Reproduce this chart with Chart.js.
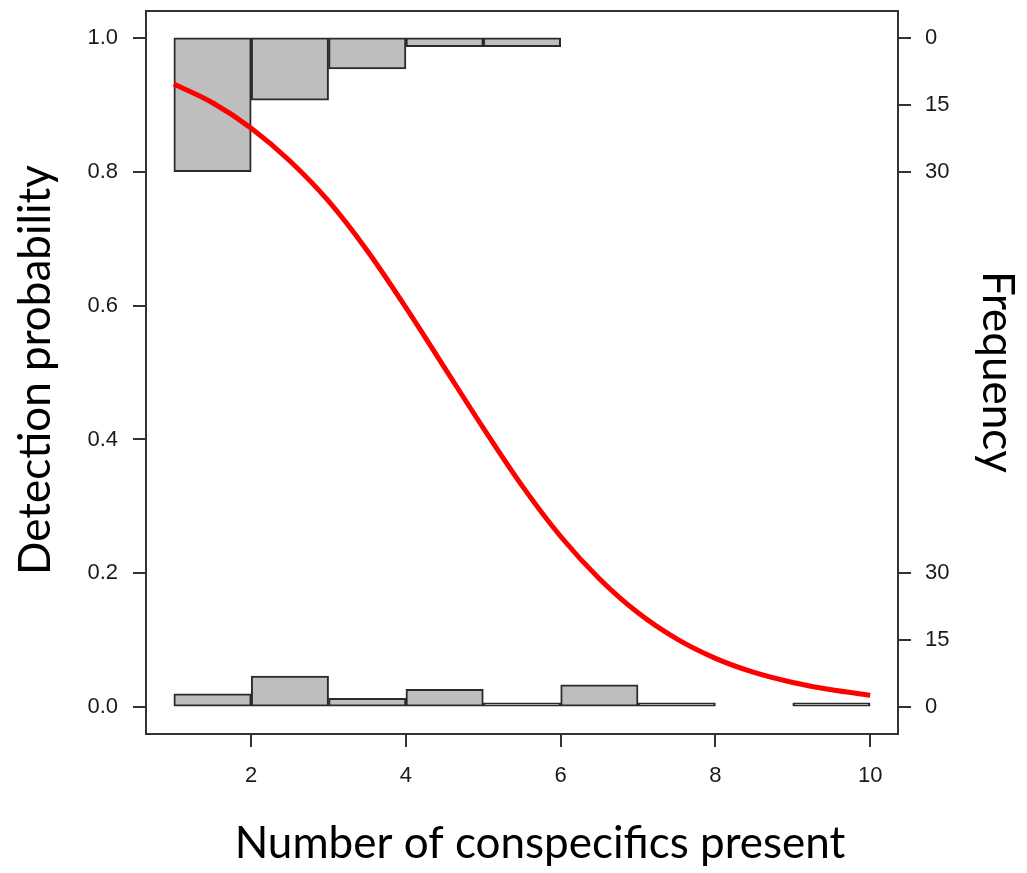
<!DOCTYPE html>
<html>
<head>
<meta charset="utf-8">
<script src="https://cdn.jsdelivr.net/npm/chart.js@4/dist/chart.umd.min.js"></script>
<style>
  html, body { margin: 0; padding: 0; background: #fff; }
  #wrap { width: 1027px; height: 873px; position: relative; }
</style>
</head>
<body>
<div id="wrap"><canvas id="chart"></canvas></div>
<script>
// fitted detection probability vs. group size
const groupSizes = [1, 1.5, 2, 2.5, 3, 3.5, 4, 4.5, 5, 5.5, 6, 6.5, 7, 7.5, 8, 8.5, 9, 9.5, 10];
const detectionProb = [0.931, 0.903, 0.865, 0.816, 0.756, 0.682, 0.597, 0.507, 0.417, 0.331,
                       0.255, 0.192, 0.141, 0.102, 0.073, 0.052, 0.037, 0.026, 0.018];

// histograms of observations, one bin per unit of group size
const binStarts = [1, 2, 3, 4, 5, 6, 7, 8, 9];
const detectedCounts = [30, 14, 7, 2, 2, 0, 0, 0, 0];   // hang down from 1.0
const missedCounts = [3, 7, 2, 4, 1, 5, 1, 0, 1];        // stand up from 0.0

const xTicks = [2, 4, 6, 8, 10];
const probTicks = [0, 0.2, 0.4, 0.6, 0.8, 1.0];
const freqTicks = [0, 15, 30];

// 30 observations take up 0.2 on the probability axis
const COUNT_TO_PROB = 0.2 / 30;

const detectedBars = [];
const missedBars = [];
binStarts.forEach((b, i) => {
  if (detectedCounts[i] > 0) {
    detectedBars.push({ x: b + 0.5, y: [1 - detectedCounts[i] * COUNT_TO_PROB, 1] });
  }
  if (missedCounts[i] > 0) {
    missedBars.push({ x: b + 0.5, y: [0, missedCounts[i] * COUNT_TO_PROB] });
  }
});

// right axis: counts measured down from 1.0 and up from 0.0
const freqTickItems = [];
const freqLabels = {};
freqTicks.forEach(f => {
  const top = +(1 - f * COUNT_TO_PROB).toFixed(4);
  const bottom = +(f * COUNT_TO_PROB).toFixed(4);
  freqTickItems.push({ value: top }, { value: bottom });
  freqLabels[top] = String(f);
  freqLabels[bottom] = String(f);
});

const AXIS_COLOR = '#333';
const LABEL_FONT = { family: '"Liberation Sans", Arial, sans-serif', size: 22 };

// frame around the plotting region
const plotFrame = {
  id: 'plotFrame',
  afterDatasetsDraw(chart) {
    const { ctx, chartArea: a } = chart;
    ctx.save();
    ctx.strokeStyle = AXIS_COLOR;
    ctx.lineWidth = 2;
    ctx.strokeRect(a.left, a.top, a.right - a.left, a.bottom - a.top);
    ctx.restore();
  }
};

const axisTitles = {
  id: 'axisTitles',
  afterDraw(chart) {
    const ctx = chart.ctx;
    ctx.save();
    ctx.fillStyle = '#000';
    ctx.font = '44px Lato, "Open Sans", sans-serif';
    ctx.textAlign = 'center';
    ctx.textBaseline = 'alphabetic';
    ctx.fillText('Number of conspecifics present', 540, 858);

    ctx.save();
    ctx.translate(50, 370);
    ctx.rotate(-Math.PI / 2);
    ctx.fillText('Detection probability', 0, 0);
    ctx.restore();

    ctx.save();
    ctx.translate(983, 372);
    ctx.rotate(Math.PI / 2);
    ctx.fillText('Frequency', 0, 0);
    ctx.restore();
    ctx.restore();
  }
};

const tickGrid = {
  drawOnChartArea: false,
  drawTicks: true,
  tickLength: 13,
  color: AXIS_COLOR,
  lineWidth: 2,
  offset: false
};

// fixed axis sizes, without the extra room chart.js keeps for end labels
const fixWidth = w => s => { s.width = w; s.paddingTop = 0; s.paddingBottom = 0; };
const fixHeight = h => s => { s.height = h; s.paddingLeft = 0; s.paddingRight = 0; };

new Chart(document.getElementById('chart'), {
  type: 'bar',
  data: {
    datasets: [
      {
        type: 'line',
        data: groupSizes.map((x, i) => ({ x, y: detectionProb[i] })),
        borderColor: '#ff0000',
        borderWidth: 5,
        pointRadius: 0,
        cubicInterpolationMode: 'monotone',
        order: 0
      },
      {
        data: detectedBars,
        backgroundColor: '#bebebe',
        borderColor: '#2b2b2b',
        borderWidth: 2,
        borderSkipped: false,
        order: 1
      },
      {
        data: missedBars,
        backgroundColor: '#bebebe',
        borderColor: '#2b2b2b',
        borderWidth: 2,
        borderSkipped: false,
        order: 1
      }
    ]
  },
  options: {
    responsive: true,
    maintainAspectRatio: false,
    animation: false,
    layout: { padding: { top: 11, left: 0, right: 0, bottom: 0 } },
    datasets: {
      bar: { grouped: false, barPercentage: 1, categoryPercentage: 1 }
    },
    plugins: {
      legend: { display: false },
      tooltip: { enabled: false }
    },
    scales: {
      x: {
        type: 'linear',
        min: 0.64,
        max: 10.36,
        offset: false,
        grid: tickGrid,
        border: { display: false },
        afterBuildTicks: s => { s.ticks = xTicks.map(v => ({ value: v })); },
        afterFit: fixHeight(139),
        ticks: { color: '#1a1a1a', font: LABEL_FONT, padding: 16, maxRotation: 0 }
      },
      y: {
        type: 'linear',
        position: 'left',
        min: -0.04,
        max: 1.04,
        grid: tickGrid,
        border: { display: false },
        afterBuildTicks: s => { s.ticks = probTicks.map(v => ({ value: v })); },
        afterFit: fixWidth(146),
        ticks: {
          color: '#1a1a1a',
          font: LABEL_FONT,
          padding: 15,
          callback: v => v.toFixed(1)
        }
      },
      y2: {
        type: 'linear',
        position: 'right',
        min: -0.04,
        max: 1.04,
        grid: tickGrid,
        border: { display: false },
        afterBuildTicks: s => { s.ticks = freqTickItems.map(t => ({ value: t.value })); },
        afterFit: fixWidth(129),
        ticks: {
          color: '#1a1a1a',
          font: LABEL_FONT,
          padding: 14,
          callback: v => freqLabels[+v.toFixed(4)]
        }
      }
    }
  },
  plugins: [plotFrame, axisTitles]
});
</script>
</body>
</html>
